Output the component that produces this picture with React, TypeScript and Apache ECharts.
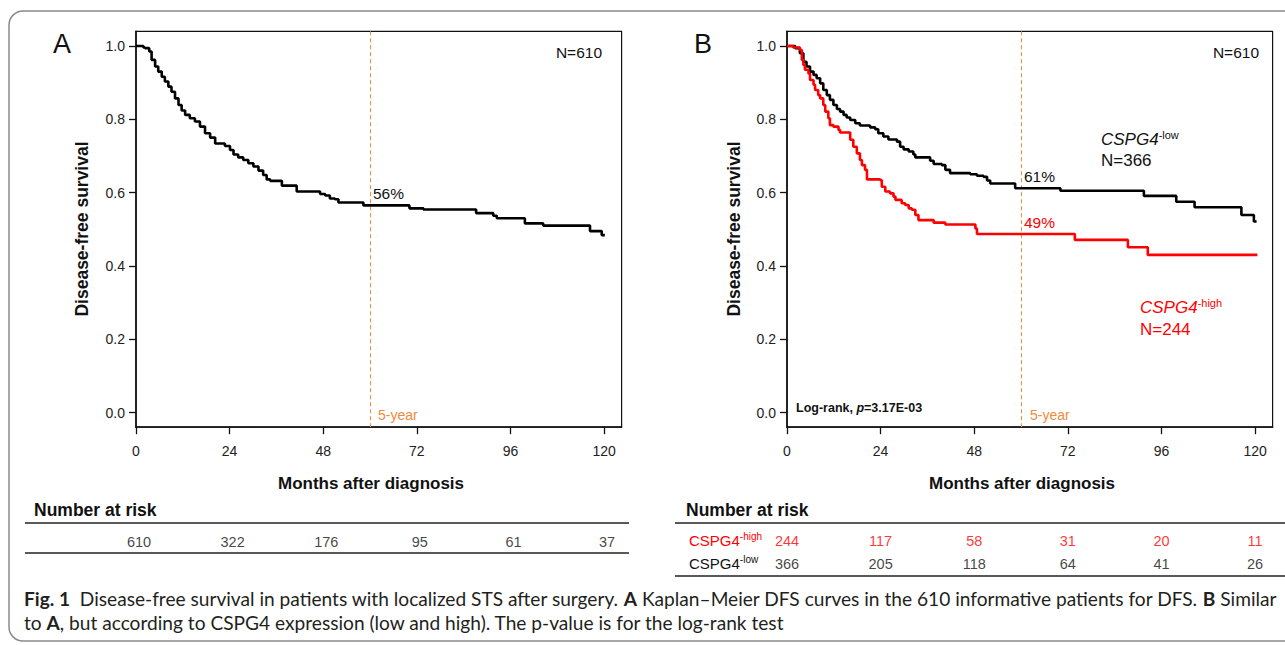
import React, { useEffect, useRef } from "react";
import * as echarts from "echarts";

// ---- data ----
const xTicks = [0, 24, 48, 72, 96, 120];
const yTicks = [0, 0.2, 0.4, 0.6, 0.8, 1.0];

// Panel A: all patients (N=610)
const monthsAll = [0, 1.9, 2.3, 3.4, 4.0, 4.9, 5.7, 6.6, 7.4, 8.3, 9.1, 10.0, 10.9, 11.7, 12.6, 13.8, 15.1, 16.4, 17.7, 19.0, 20.3, 22.8, 24.1, 25.0, 26.2, 27.5, 28.8, 30.1, 31.4, 32.6, 33.5, 34.4, 37.4, 41.2, 47.2, 48.5, 49.7, 51.0, 51.9, 58.3, 70.1, 73.7, 87.2, 91.6, 92.5, 99.7, 104.4, 116.4, 119.4, 120.2];
const survAll = [1.0, 0.996, 0.994, 0.985, 0.962, 0.944, 0.930, 0.916, 0.903, 0.889, 0.875, 0.857, 0.839, 0.824, 0.812, 0.803, 0.794, 0.780, 0.762, 0.750, 0.734, 0.727, 0.716, 0.704, 0.696, 0.689, 0.680, 0.671, 0.660, 0.648, 0.636, 0.632, 0.619, 0.603, 0.596, 0.592, 0.584, 0.582, 0.573, 0.565, 0.557, 0.554, 0.544, 0.537, 0.530, 0.516, 0.510, 0.495, 0.484, 0.484];

// Panel B: CSPG4-low (N=366)
const monthsLow = [0, 2.1, 3.3, 4.2, 5.0, 5.9, 6.8, 7.6, 8.5, 9.3, 10.2, 11.0, 11.9, 12.8, 13.6, 14.5, 15.3, 16.2, 17.5, 18.7, 21.3, 22.6, 23.4, 24.7, 26.0, 28.2, 29.0, 29.9, 31.2, 32.4, 32.9, 36.7, 37.6, 39.7, 40.6, 41.8, 47.0, 48.7, 50.4, 51.3, 52.1, 58.5, 70.1, 91.5, 99.8, 104.5, 116.5, 119.7, 120.4];
const survLow = [1.0, 0.994, 0.980, 0.957, 0.944, 0.930, 0.921, 0.912, 0.898, 0.880, 0.866, 0.853, 0.839, 0.828, 0.821, 0.812, 0.805, 0.798, 0.789, 0.783, 0.778, 0.773, 0.762, 0.753, 0.745, 0.739, 0.725, 0.718, 0.712, 0.704, 0.696, 0.687, 0.678, 0.675, 0.662, 0.653, 0.650, 0.646, 0.643, 0.633, 0.625, 0.612, 0.605, 0.591, 0.575, 0.560, 0.539, 0.521, 0.521];

// Panel B: CSPG4-high (N=244)
const monthsHigh = [0, 1.6, 3.3, 3.8, 4.2, 4.6, 5.5, 5.9, 6.8, 7.2, 8.0, 8.5, 9.3, 9.8, 10.6, 11.0, 11.9, 13.2, 13.6, 16.2, 17.0, 17.9, 18.7, 19.2, 20.0, 20.5, 23.9, 24.3, 25.2, 26.4, 27.3, 27.8, 29.4, 30.3, 31.2, 32.0, 32.9, 33.7, 37.6, 40.6, 48.3, 48.7, 73.8, 87.4, 92.5, 120.6];
const survHigh = [1.0, 0.996, 0.989, 0.962, 0.948, 0.935, 0.925, 0.907, 0.894, 0.880, 0.866, 0.857, 0.839, 0.821, 0.803, 0.784, 0.780, 0.771, 0.764, 0.744, 0.725, 0.707, 0.689, 0.675, 0.662, 0.636, 0.634, 0.616, 0.603, 0.598, 0.589, 0.580, 0.571, 0.566, 0.557, 0.553, 0.539, 0.525, 0.518, 0.513, 0.502, 0.487, 0.471, 0.451, 0.430, 0.430];

// Number at risk
const riskMonths = [0, 24, 48, 72, 96, 120];
const riskAll = [610, 322, 176, 95, 61, 37];
const riskHigh = [244, 117, 58, 31, 20, 11];
const riskLow = [366, 205, 118, 64, 41, 26];

const fiveYear = 60;

const FONT = "'Liberation Sans', Arial, sans-serif";
const CAP_FONT = "Lato, 'Noto Sans', sans-serif";
const RED = "#ff0000";
const ORANGE = "#f28a3c";

const capLine1 = [
  { t: "Fig. 1", b: true },
  { t: "  Disease-free survival in patients with localized STS after surgery. ", b: false },
  { t: "A", b: true },
  { t: " Kaplan\u2013Meier DFS curves in the 610 informative patients for DFS. ", b: false },
  { t: "B", b: true },
  { t: " Similar", b: false },
];
const capLine2 = [
  { t: "to ", b: false },
  { t: "A", b: true },
  { t: ", but according to CSPG4 expression (low and high). The p-value is for the log-rank test", b: false },
];

function zip(xs: number[], ys: number[]) {
  return xs.map((x, i) => [x, ys[i]]);
}

function fitFontSize(segs: { t: string; b: boolean }[], target: number) {
  const ctx = document.createElement("canvas").getContext("2d");
  if (!ctx) return 16.5;
  let w = 0;
  segs.forEach((s) => {
    ctx.font = `${s.b ? "bold " : ""}100px ${CAP_FONT}`;
    w += ctx.measureText(s.t).width;
  });
  return (100 * target) / w;
}

function richText(segs: { t: string; b: boolean }[]) {
  return segs.map((s) => `{${s.b ? "b" : "n"}|${s.t}}`).join("");
}

const GRID_W = 485.6;
const X_MAX = 124.5;

function plotXAxis(gridIndex: number) {
  return {
    type: "value",
    gridIndex,
    min: 0,
    max: X_MAX,
    axisLine: { show: true, onZero: false, lineStyle: { color: "#111", width: 1.6 } },
    axisTick: { show: true, customValues: xTicks, length: 7, lineStyle: { color: "#111", width: 1.3 } },
    axisLabel: { customValues: xTicks, margin: 17, fontSize: 14, color: "#222", fontFamily: FONT },
    splitLine: { show: false },
  };
}
function plotYAxis(gridIndex: number) {
  return {
    type: "value",
    gridIndex,
    min: -0.04,
    max: 1.04,
    axisLine: { show: true, lineStyle: { color: "#111", width: 1.6 } },
    axisTick: { show: true, customValues: yTicks, length: 7, lineStyle: { color: "#111", width: 1.3 } },
    axisLabel: {
      customValues: yTicks,
      margin: 11,
      fontSize: 14,
      color: "#222",
      fontFamily: FONT,
      formatter: (v: number) => Number(v).toFixed(1),
    },
    splitLine: { show: false },
  };
}

function kmSeries(data: number[][], x: number, color: string, withMark: boolean) {
  const s: any = {
    type: "line",
    xAxisIndex: x,
    yAxisIndex: x,
    data,
    step: "end",
    symbol: "none",
    showSymbol: false,
    silent: true,
    lineStyle: { color, width: 2.6 },
    z: 3,
  };
  if (withMark) {
    s.markLine = {
      silent: true,
      symbol: "none",
      label: { show: false },
      lineStyle: { color: ORANGE, type: [4, 3], width: 1 },
      data: [{ xAxis: fiveYear }],
      z: 2,
    };
  }
  return s;
}

function riskSeries(idx: number, row: string, values: number[], color: string, dx: number) {
  return {
    type: "scatter",
    xAxisIndex: idx,
    yAxisIndex: idx,
    symbolSize: 1,
    itemStyle: { color: "rgba(0,0,0,0)" },
    silent: true,
    data: riskMonths.map((m, i) => [m, row, values[i]]),
    label: {
      show: true,
      position: "inside",
      offset: [dx, 0],
      formatter: (p: any) => String(p.value[2]),
      fontSize: 14.5,
      color,
      fontFamily: FONT,
    },
  };
}

function txt(x: number, y: number, text: string, style: any, extra: any = {}) {
  return {
    type: "text",
    x,
    y,
    silent: true,
    ...extra,
    style: { text, fontFamily: FONT, fill: "#111", align: "left", verticalAlign: "middle", ...style },
  };
}

export default function App() {
  const ref = useRef<HTMLDivElement>(null);
  useEffect(() => {
    if (!ref.current) return;
    const chart = echarts.init(ref.current, null, { renderer: "svg" });
    const capSize = fitFontSize(capLine1, 1253);

    const option: any = {
      animation: false,
      backgroundColor: "#fff",
      grid: [
        { left: 136, top: 31.3, width: GRID_W, height: 395.9, show: true, borderColor: "#111", borderWidth: 1.2, backgroundColor: "transparent" },
        { left: 787, top: 31.3, width: GRID_W, height: 395.9, show: true, borderColor: "#111", borderWidth: 1.2, backgroundColor: "transparent" },
        { left: 136, top: 531, width: GRID_W, height: 21 },
        { left: 787, top: 529, width: GRID_W, height: 46 },
      ],
      xAxis: [
        plotXAxis(0),
        plotXAxis(1),
        { type: "value", gridIndex: 2, min: 0, max: X_MAX, show: false },
        { type: "value", gridIndex: 3, min: 0, max: X_MAX, show: false },
      ],
      yAxis: [
        plotYAxis(0),
        plotYAxis(1),
        { type: "category", gridIndex: 2, data: ["all"], show: false },
        { type: "category", gridIndex: 3, data: ["low", "high"], show: false },
      ],
      series: [
        kmSeries(zip(monthsAll, survAll), 0, "#000", true),
        kmSeries(zip(monthsLow, survLow), 1, "#000", true),
        kmSeries(zip(monthsHigh, survHigh), 1, RED, false),
        riskSeries(2, "all", riskAll, "#111", 3),
        riskSeries(3, "high", riskHigh, RED, 0),
        riskSeries(3, "low", riskLow, "#111", 0),
      ],
      graphic: [
        {
          type: "rect",
          silent: true,
          shape: { x: 9, y: 11, width: 1300, height: 630, r: 14 },
          style: { fill: "none", stroke: "#8a8a8a", lineWidth: 1.5 },
          z: -1,
        },
        // panel letters
        txt(53, 44, "A", { fontSize: 27 }),
        txt(694, 44, "B", { fontSize: 27 }),
        // N labels
        txt(602, 52, "N=610", { fontSize: 15.5, align: "right" }),
        txt(1259, 52, "N=610", { fontSize: 15.5, align: "right" }),
        // 5-year annotations
        txt(373, 193, "56%", { fontSize: 15.5 }),
        txt(1024, 176, "61%", { fontSize: 15.5 }),
        txt(1024, 222, "49%", { fontSize: 15.5, fill: RED }),
        txt(378, 415, "5-year", { fontSize: 14, fill: ORANGE }),
        txt(1030, 415, "5-year", { fontSize: 14, fill: ORANGE }),
        // group labels
        txt(1101, 139, "{i|CSPG4}{s|-low}", {
          rich: {
            i: { fontSize: 17, fontStyle: "italic", fontFamily: FONT, fill: "#111", lineHeight: 20 },
            s: { fontSize: 11, fontFamily: FONT, fill: "#111", verticalAlign: "top", lineHeight: 20 },
          },
        }),
        txt(1101, 160.5, "N=366", { fontSize: 17 }),
        txt(1140, 307, "{i|CSPG4}{s|-high}", {
          rich: {
            i: { fontSize: 17, fontStyle: "italic", fontFamily: FONT, fill: RED, lineHeight: 20 },
            s: { fontSize: 11, fontFamily: FONT, fill: RED, verticalAlign: "top", lineHeight: 20 },
          },
        }),
        txt(1140, 329, "N=244", { fontSize: 17, fill: RED }),
        // log-rank
        txt(796, 408, "{b|Log-rank, }{i|p}{b|=3.17E-03}", {
          rich: {
            b: { fontSize: 12.5, fontWeight: "bold", fontFamily: FONT, fill: "#111" },
            i: { fontSize: 12.5, fontWeight: "bold", fontStyle: "italic", fontFamily: FONT, fill: "#111" },
          },
        }),
        // axis titles
        txt(82, 229, "Disease-free survival", { fontSize: 17.5, fontWeight: "bold", align: "center" }, { rotation: Math.PI / 2 }),
        txt(734, 229, "Disease-free survival", { fontSize: 17.5, fontWeight: "bold", align: "center" }, { rotation: Math.PI / 2 }),
        txt(371, 483, "Months after diagnosis", { fontSize: 17, fontWeight: "bold", align: "center" }),
        txt(1022, 483, "Months after diagnosis", { fontSize: 17, fontWeight: "bold", align: "center" }),
        // number at risk tables
        txt(34, 510, "Number at risk", { fontSize: 17.5, fontWeight: "bold" }),
        txt(686, 510, "Number at risk", { fontSize: 17.5, fontWeight: "bold" }),
        { type: "line", silent: true, shape: { x1: 25, y1: 523, x2: 629, y2: 523 }, style: { stroke: "#222", lineWidth: 1.5 } },
        { type: "line", silent: true, shape: { x1: 25, y1: 553, x2: 629, y2: 553 }, style: { stroke: "#222", lineWidth: 1.5 } },
        { type: "line", silent: true, shape: { x1: 675, y1: 523, x2: 1290, y2: 523 }, style: { stroke: "#222", lineWidth: 1.5 } },
        { type: "line", silent: true, shape: { x1: 675, y1: 576, x2: 1290, y2: 576 }, style: { stroke: "#222", lineWidth: 1.5 } },
        txt(689, 540, "{n|CSPG4}{s|-high}", {
          rich: {
            n: { fontSize: 15, fontFamily: FONT, fill: RED, lineHeight: 18 },
            s: { fontSize: 10, fontFamily: FONT, fill: RED, verticalAlign: "top", lineHeight: 18 },
          },
        }),
        txt(689, 563, "{n|CSPG4}{s|-low}", {
          rich: {
            n: { fontSize: 15, fontFamily: FONT, fill: "#111", lineHeight: 18 },
            s: { fontSize: 10, fontFamily: FONT, fill: "#111", verticalAlign: "top", lineHeight: 18 },
          },
        }),
        // caption
        txt(24, 598, richText(capLine1), {
          rich: {
            b: { fontSize: capSize, fontWeight: "bold", fontFamily: CAP_FONT, fill: "#231f20" },
            n: { fontSize: capSize, fontFamily: CAP_FONT, fill: "#231f20" },
          },
        }),
        txt(24, 622, richText(capLine2), {
          rich: {
            b: { fontSize: capSize, fontWeight: "bold", fontFamily: CAP_FONT, fill: "#231f20" },
            n: { fontSize: capSize, fontFamily: CAP_FONT, fill: "#231f20" },
          },
        }),
      ],
    };
    chart.setOption(option);
    return () => chart.dispose();
  }, []);
  return (
    <div
      ref={ref}
      style={{ position: "fixed", left: 0, top: 0, width: 1285, height: 645, background: "#fff" }}
    />
  );
}
